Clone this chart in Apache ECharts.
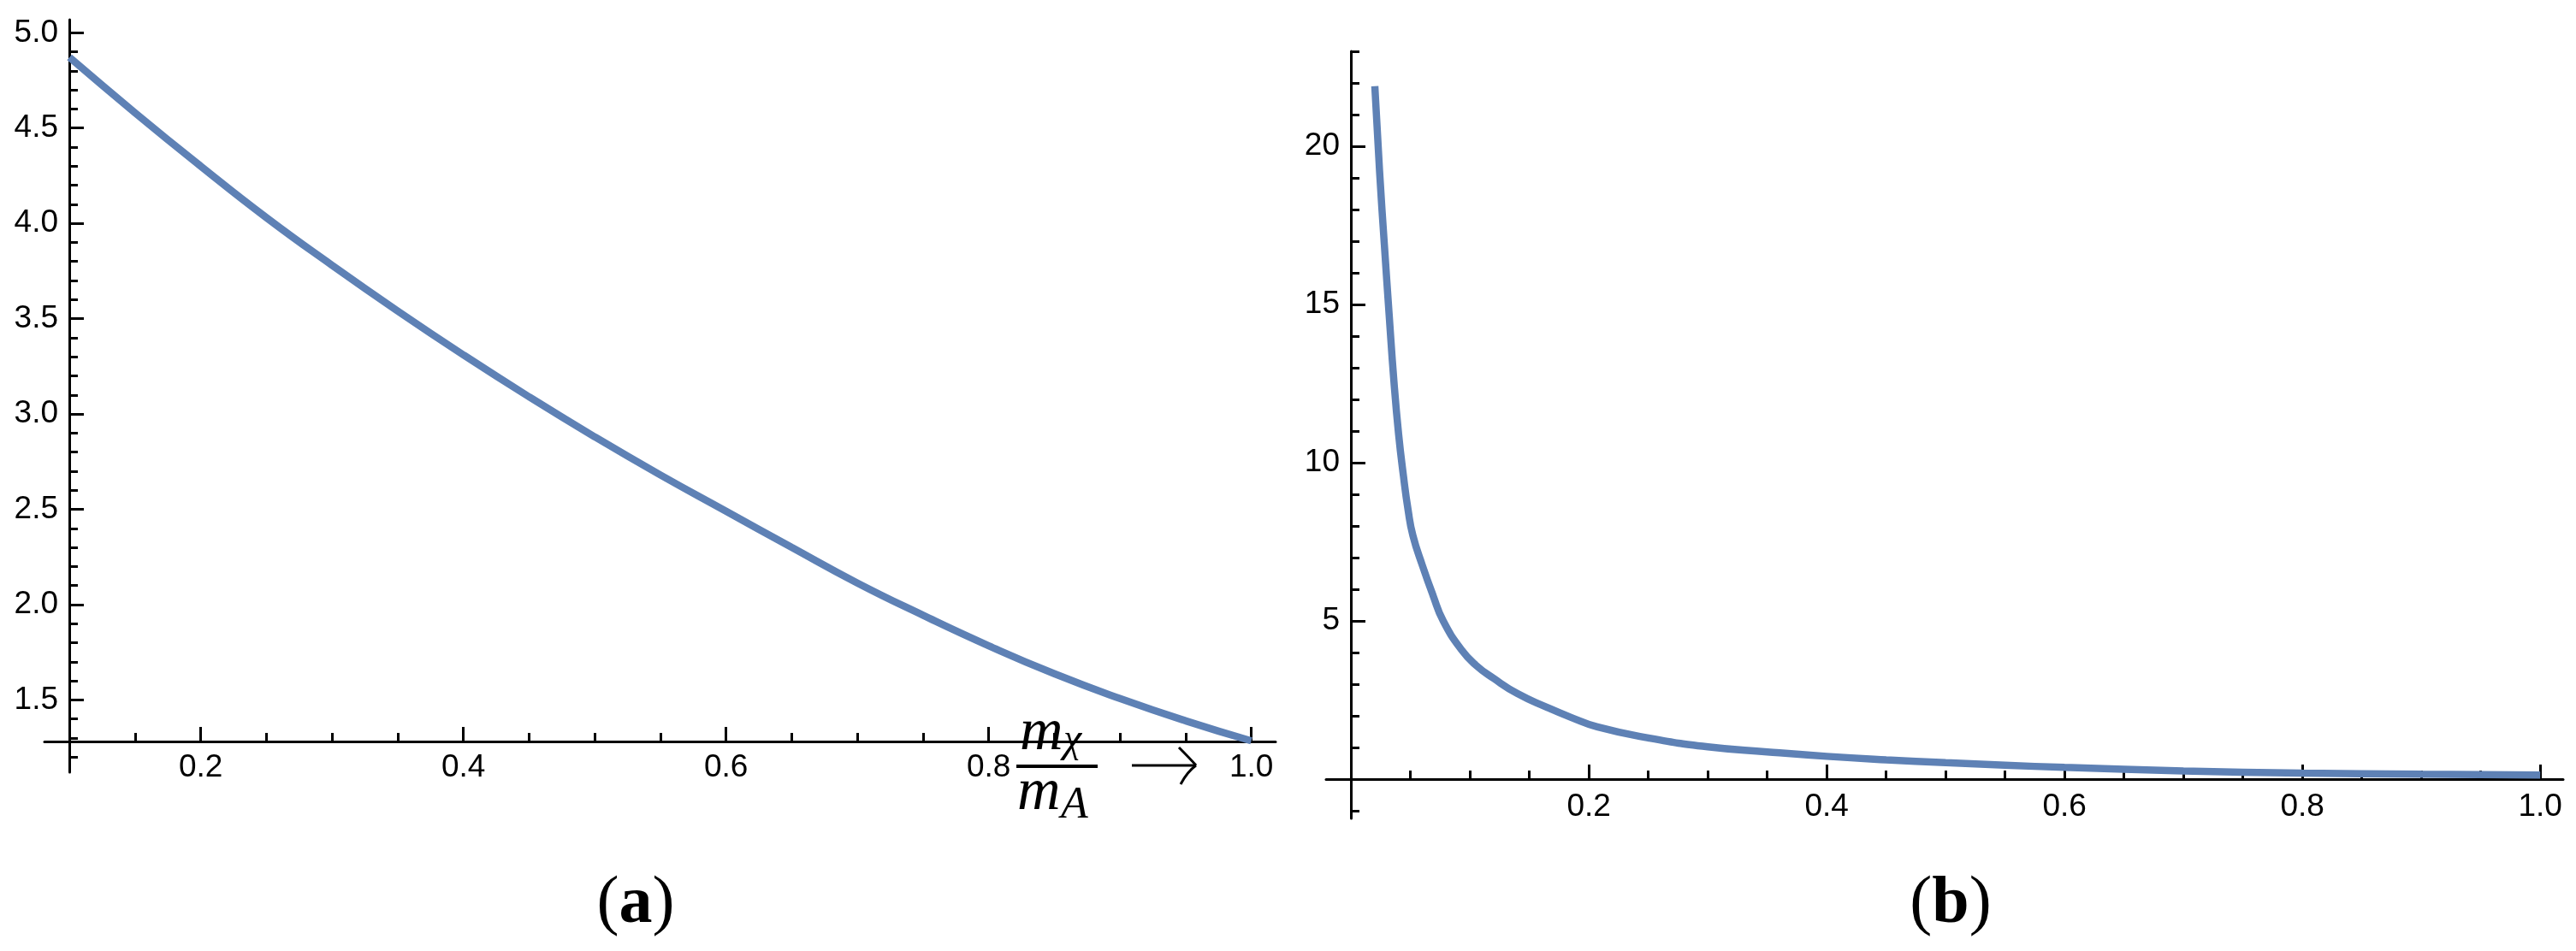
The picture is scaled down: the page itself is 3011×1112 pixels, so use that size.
<!DOCTYPE html>
<html>
<head>
<meta charset="utf-8">
<script src="https://cdn.jsdelivr.net/npm/echarts@6/dist/echarts.min.js"></script>
<style>
  html, body { margin: 0; padding: 0; background: #fff; }
  #main { width: 3011px; height: 1112px; }
</style>
</head>
<body>
<div id="main"></div>
<script>
var myChart = echarts.init(document.getElementById('main'));

// panel (a): curve
const aX = [0.1, 0.15, 0.2, 0.25, 0.3, 0.35, 0.4, 0.45, 0.5, 0.55, 0.6, 0.65, 0.7, 0.75, 0.8, 0.85, 0.9, 0.95, 1.0];
const aY = [4.871, 4.58, 4.30, 4.03, 3.78, 3.54, 3.31, 3.09, 2.88, 2.68, 2.49, 2.30, 2.113, 1.944, 1.784, 1.637, 1.507, 1.39, 1.285];

// panel (b)
const bX = [0.020, 0.024, 0.028, 0.032, 0.036, 0.040, 0.044, 0.048, 0.052, 0.060, 0.069, 0.0775, 0.093, 0.105, 0.12, 0.14, 0.164, 0.185, 0.207, 0.25, 0.30, 0.35, 0.40, 0.45, 0.50, 0.55, 0.60, 0.70, 0.80, 0.90, 1.00];
const bY = [21.9, 19.2, 16.9, 14.7, 12.6, 10.9, 9.6, 8.5, 7.7, 6.75, 5.8, 5.0, 4.08, 3.6, 3.18, 2.7, 2.28, 1.95, 1.65, 1.3, 1.02, 0.86, 0.72, 0.61, 0.52, 0.44, 0.37, 0.26, 0.19, 0.155, 0.13];

// ticks
const aXMajor = [0.2, 0.4, 0.6, 0.8, 1.0];
const aXMinor = [0.1, 0.15, 0.25, 0.3, 0.35, 0.45, 0.5, 0.55, 0.65, 0.7, 0.75, 0.85, 0.9, 0.95];
const aYMajor = [1.5, 2.0, 2.5, 3.0, 3.5, 4.0, 4.5, 5.0];
const aYMinor = [1.2, 1.3, 1.4, 1.6, 1.7, 1.8, 1.9, 2.1, 2.2, 2.3, 2.4, 2.6, 2.7, 2.8, 2.9,
  3.1, 3.2, 3.3, 3.4, 3.6, 3.7, 3.8, 3.9, 4.1, 4.2, 4.3, 4.4, 4.6, 4.7, 4.8, 4.9];
const bXMajor = [0.2, 0.4, 0.6, 0.8, 1.0];
const bXMinor = [0.05, 0.1, 0.15, 0.25, 0.3, 0.35, 0.45, 0.5, 0.55, 0.65, 0.7, 0.75, 0.85, 0.9, 0.95];
const bYMajor = [5, 10, 15, 20];
const bYMinor = [-1, 1, 2, 3, 4, 6, 7, 8, 9, 11, 12, 13, 14, 16, 17, 18, 19, 21, 22, 23];

const lineColor = '#5e81b5';
const labelFont = { color: '#000', fontSize: 37, fontFamily: 'Liberation Sans, Arial, sans-serif' };

function xAxisPair(grid, min, max, offset, major, minor, margin) {
  return [
    {
      type: 'value', gridIndex: grid, min: min, max: max, position: 'bottom', offset: offset,
      axisLine: { show: true, onZero: false, lineStyle: { color: '#000', width: 3 } },
      axisTick: { show: true, inside: true, length: 17, customValues: major, lineStyle: { color: '#000', width: 3 } },
      axisLabel: Object.assign({ show: true, margin: margin, customValues: major,
        formatter: function (v) { return v.toFixed(1); } }, labelFont),
      splitLine: { show: false }
    },
    {
      type: 'value', gridIndex: grid, min: min, max: max, position: 'bottom', offset: offset,
      axisLine: { show: false, onZero: false },
      axisTick: { show: true, inside: true, length: 10, customValues: minor, lineStyle: { color: '#000', width: 3 } },
      axisLabel: { show: false },
      splitLine: { show: false }
    }
  ];
}

function yAxisPair(grid, min, max, offset, major, minor, fmt) {
  return [
    {
      type: 'value', gridIndex: grid, min: min, max: max, position: 'left', offset: offset,
      axisLine: { show: true, onZero: false, lineStyle: { color: '#000', width: 3 } },
      axisTick: { show: true, inside: true, length: 17, customValues: major, lineStyle: { color: '#000', width: 3 } },
      axisLabel: Object.assign({ show: true, margin: 13, customValues: major, formatter: fmt }, labelFont),
      splitLine: { show: false }
    },
    {
      type: 'value', gridIndex: grid, min: min, max: max, position: 'left', offset: offset,
      axisLine: { show: false, onZero: false },
      axisTick: { show: true, inside: true, length: 10, customValues: minor, lineStyle: { color: '#000', width: 3 } },
      axisLabel: { show: false },
      splitLine: { show: false }
    }
  ];
}

const panelRich = {
  p: { fontSize: 78, fontFamily: 'Liberation Serif', color: '#000' },
  b: { fontSize: 78, fontFamily: 'Liberation Serif', fontWeight: 'bold', color: '#000' }
};

const option = {
  backgroundColor: '#fff',
  animation: false,
  grid: [
    { left: 52, top: 23, width: 1439, height: 880, containLabel: false, outerBoundsMode: 'none' },
    { left: 1550, top: 60, width: 1446, height: 897, containLabel: false, outerBoundsMode: 'none' }
  ],
  xAxis: [].concat(
    xAxisPair(0, 0.081, 1.0185, -36, aXMajor, aXMinor, 12),
    xAxisPair(1, -0.021, 1.0193, -46, bXMajor, bXMinor, 14)
  ),
  yAxis: [].concat(
    yAxisPair(0, 1.1201, 5.0687, -29, aYMajor, aYMinor, function (v) { return v.toFixed(1); }),
    yAxisPair(1, -1.243, 23, -29, bYMajor, bYMinor, function (v) { return String(Math.round(v)); })
  ),
  series: [
    {
      type: 'line', xAxisIndex: 0, yAxisIndex: 0, showSymbol: false, symbol: 'none',
      smooth: 0.5,
      lineStyle: { color: lineColor, width: 8.5, cap: 'butt' },
      data: aX.map(function (x, i) { return [x, aY[i]]; })
    },
    {
      type: 'line', xAxisIndex: 2, yAxisIndex: 2, showSymbol: false, symbol: 'none',
      smooth: 0.5,
      lineStyle: { color: lineColor, width: 8.5, cap: 'butt' },
      data: bX.map(function (x, i) { return [x, bY[i]]; })
    }
  ],
  graphic: [
    // m_chi / m_A  -->
    { type: 'text', style: { x: 1192, y: 858, text: 'm', font: 'italic 70px "Liberation Serif", serif', fill: '#000', textVerticalAlign: 'middle' } },
    { type: 'text', style: { x: 1243, y: 866, text: 'χ', font: 'italic 48px "Liberation Serif", serif', fill: '#000', textVerticalAlign: 'middle' } },
    { type: 'rect', shape: { x: 1188, y: 894, width: 95, height: 4 }, style: { fill: '#000' } },
    { type: 'text', style: { x: 1189, y: 928, text: 'm', font: 'italic 70px "Liberation Serif", serif', fill: '#000', textVerticalAlign: 'middle' } },
    { type: 'text', style: { x: 1240, y: 942, text: 'A', font: 'italic 52px "Liberation Serif", serif', fill: '#000', textVerticalAlign: 'middle' } },
    { type: 'line', shape: { x1: 1323, y1: 895, x2: 1397, y2: 895 }, style: { stroke: '#000', lineWidth: 3 } },
    { type: 'bezierCurve', shape: { x1: 1378, y1: 874, x2: 1398, y2: 895, cpx1: 1392, cpy1: 888 }, style: { stroke: '#000', lineWidth: 3, fill: null } },
    { type: 'bezierCurve', shape: { x1: 1398, y1: 895, x2: 1380, y2: 917, cpx1: 1388, cpy1: 902 }, style: { stroke: '#000', lineWidth: 3, fill: null } },
    // panel labels
    { type: 'text', style: { x: 743, y: 1058, text: '{p|(}{b|a}{p|)}', textAlign: 'center', textVerticalAlign: 'middle', rich: panelRich } },
    { type: 'text', style: { x: 2280, y: 1058, text: '{p|(}{b|b}{p|)}', textAlign: 'center', textVerticalAlign: 'middle', rich: panelRich } }
  ]
};

myChart.setOption(option);
</script>
</body>
</html>
